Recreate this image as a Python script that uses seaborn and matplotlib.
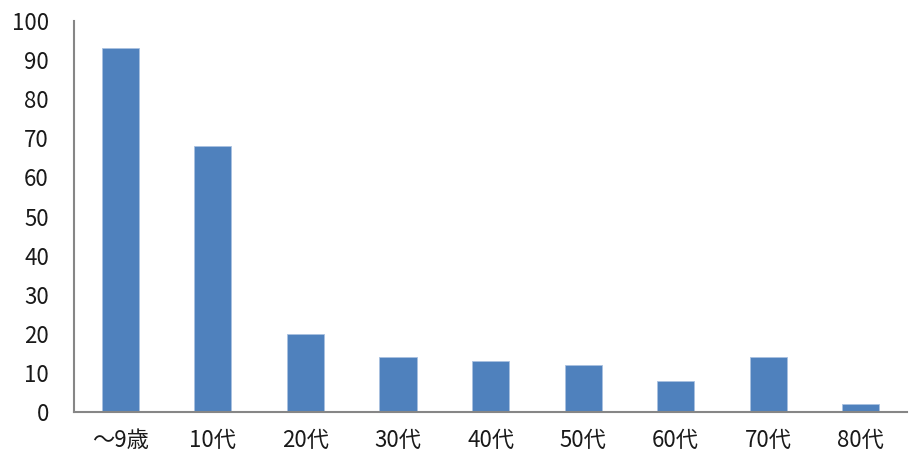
import numpy as np
import pandas as pd
import matplotlib
matplotlib.use("Agg")
import matplotlib.pyplot as plt
import seaborn as sns

# data
age_groups = ["～9歳", "10代", "20代", "30代", "40代", "50代", "60代", "70代", "80代"]
counts = [93, 68, 20, 14, 13, 12, 8, 14, 2]
y_ticks = [0, 10, 20, 30, 40, 50, 60, 70, 80, 90, 100]

df = pd.DataFrame({"age": age_groups, "count": counts})

sns.set_style("white")
plt.rcParams['font.family'] = ['Noto Sans CJK JP', 'DejaVu Sans']

fig = plt.figure(figsize=(9.09, 4.69), dpi=100)
ax = fig.add_axes([0.0814, 0.1215, 0.9166, 0.8335])

sns.barplot(data=df, x="age", y="count", color="#4F81BD", saturation=1, width=0.4,
            edgecolor="#A9C1E0", linewidth=0.6, ax=ax)

ax.set_xlim(-0.5, len(age_groups) - 0.5)
ax.set_ylim(0, 100)
ax.set_yticks(y_ticks)
ax.set_xlabel("")
ax.set_ylabel("")

for s in ["top", "right"]:
    ax.spines[s].set_visible(False)
for s in ["left", "bottom"]:
    ax.spines[s].set_color("#868686")
    ax.spines[s].set_linewidth(1.5)

ax.tick_params(axis="y", length=0, pad=18, labelsize=16, labelcolor="#1a1a1a")
ax.tick_params(axis="x", length=0, pad=12, labelsize=16, labelcolor="#1a1a1a")

fig.savefig("out.png", dpi=100)
